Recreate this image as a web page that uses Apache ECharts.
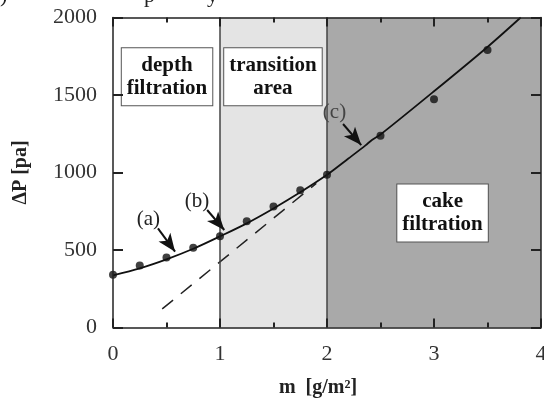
<!DOCTYPE html>
<html>
<head>
<meta charset="utf-8">
<script src="https://cdn.jsdelivr.net/npm/echarts@6/dist/echarts.min.js"></script>
<style>
html,body{margin:0;padding:0;background:#fff;}
#chart{width:544px;height:403px;}
</style>
</head>
<body>
<div id="chart"></div>
<script>
// measured points
const pointX = [0, 0.25, 0.5, 0.75, 1.0, 1.25, 1.5, 1.75, 2.0, 2.5, 3.0, 3.5];
const pointY = [340, 400, 452, 515, 588, 685, 780, 886, 985, 1237, 1472, 1790];
// fitted solid curve
const curveX = [0, 0.25, 0.5, 0.75, 1.0, 1.25, 1.5, 1.75, 2.0, 2.2, 2.36, 2.42, 2.5, 3.0, 3.5, 3.81];
const curveY = [337, 382, 440, 508, 588, 672, 768, 872, 985, 1090, 1175, 1210, 1245, 1524, 1810, 2000];
// dashed extrapolation of the cake-filtration line
const dashX = [0.46, 1.9];
const dashY = [120, 930];
// tick settings
const xTicks = [0, 1, 2, 3, 4];
const yTicks = [0, 500, 1000, 1500, 2000];
// region boundaries
const regionEdges = [0, 1, 2, 4];
const regionNames = ['depth\nfiltration', 'transition\narea', 'cake\nfiltration'];
const regionBoxPos = [[0.505, 1618], [1.495, 1618], [3.08, 739]];
// annotations
const noteLabels = ['(a)', '(b)', '(c)'];
const notePos = [[0.33, 694], [0.785, 816], [2.07, 1390]];
const arrowStarts = [[0.42, 640], [0.88, 758], [2.15, 1313]];
const arrowTips = [[0.58, 489], [1.04, 629], [2.32, 1177]];

const serif = "'Liberation Serif', 'Times New Roman', serif";
const frame = {color: '#222', width: 1.5};
const tickStyle = {color: '#222', width: 2};

function xAxisDef(pos, showLabel) {
  return {
    type: 'value', position: pos, min: xTicks[0], max: xTicks[xTicks.length - 1], interval: 1, z: 10,
    axisLine: {show: true, onZero: false, lineStyle: frame},
    axisTick: {show: true, inside: true, length: 9, lineStyle: tickStyle},
    minorTick: {show: true, splitNumber: 2, length: 5, lineStyle: tickStyle},
    splitLine: {show: false},
    axisLabel: {show: showLabel, fontSize: 22, fontFamily: serif, color: '#333', margin: 16,
      formatter: v => String(v)},
    name: showLabel ? 'm  [g/m²]' : '',
    nameLocation: 'middle', nameGap: 50,
    nameTextStyle: {fontSize: 20, fontWeight: 'bold', fontFamily: serif, color: '#222', padding: [0, 18, 0, 0]}
  };
}
function yAxisDef(pos, showLabel) {
  return {
    type: 'value', position: pos, min: yTicks[0], max: yTicks[yTicks.length - 1], interval: 500, z: 10,
    axisLine: {show: true, onZero: false, lineStyle: frame},
    axisTick: {show: true, inside: true, length: 10, lineStyle: tickStyle},
    splitLine: {show: false},
    axisLabel: {show: showLabel, fontSize: 22, fontFamily: serif, color: '#333', margin: 16,
      formatter: v => String(v)},
    name: showLabel ? 'ΔP [pa]' : '',
    nameLocation: 'middle', nameGap: 82, nameRotate: 90,
    nameTextStyle: {fontSize: 20, fontWeight: 'bold', fontFamily: serif, color: '#222', padding: [0, 0, 0, 0]}
  };
}

const chart = echarts.init(document.getElementById('chart'), null, {renderer: 'canvas'});
const boxLabel = {
  show: true, position: 'inside', fontSize: 21, fontWeight: 'bold', fontFamily: serif,
  color: '#111', lineHeight: 23, backgroundColor: '#fff', borderColor: '#555', borderWidth: 1,
  padding: [6, 5, 5, 5], align: 'center', verticalAlign: 'middle',
  formatter: p => p.name
};
const option = {
  animation: false,
  backgroundColor: '#fff',
  grid: {left: 113, right: 3, top: 17.5, bottom: 75.5, containLabel: false, outerBoundsMode: 'none'},
  xAxis: [xAxisDef('bottom', true), xAxisDef('top', false)],
  yAxis: [yAxisDef('left', true), yAxisDef('right', false)],
  graphic: [
    {type: 'text', left: 0, top: -15, style: {text: ')', font: '22px ' + serif, fill: '#222'}},
    {type: 'text', left: 144, top: -15, style: {text: 'p', font: '22px ' + serif, fill: '#222'}},
    {type: 'text', left: 207, top: -15, style: {text: 'y', font: '22px ' + serif, fill: '#222'}}
  ],
  series: [
    {
      type: 'line', name: 'bg', data: [], z: 1, silent: true,
      markArea: {
        silent: true,
        data: [
          [{xAxis: regionEdges[1], itemStyle: {color: '#e4e4e4'}}, {xAxis: regionEdges[2]}],
          [{xAxis: regionEdges[2], itemStyle: {color: '#a9a9a9'}}, {xAxis: regionEdges[3]}]
        ]
      },
      markLine: {
        silent: true, symbol: ['none', 'none'], label: {show: false},
        lineStyle: {color: '#444', width: 1.5, type: 'solid'},
        data: [{xAxis: regionEdges[1]}, {xAxis: regionEdges[2]}]
      }
    },
    {
      type: 'line', name: 'dash', z: 3, symbol: 'none',
      data: dashX.map((x, i) => [x, dashY[i]]),
      lineStyle: {color: '#222', width: 1.5, type: [14, 10]}
    },
    {
      type: 'line', name: 'curve', z: 4, symbol: 'none', smooth: 0.3,
      data: curveX.map((x, i) => [x, curveY[i]]),
      lineStyle: {color: '#111', width: 1.8}
    },
    {
      type: 'scatter', name: 'points', z: 5, symbol: 'circle', symbolSize: 8,
      itemStyle: {color: '#111'},
      data: pointX.map((x, i) => [x, pointY[i]]),
      markLine: {
        silent: true, symbol: ['none', 'arrow'], symbolSize: [11, 18], label: {show: false},
        lineStyle: {color: '#111', width: 2, type: 'solid'},
        data: arrowStarts.map((s, i) => [{coord: s}, {coord: arrowTips[i]}])
      },
      markPoint: {
        silent: true, symbol: 'circle', symbolSize: 0,
        data: notePos.map((p, i) => ({
          name: noteLabels[i], coord: p,
          label: {show: true, position: 'inside', formatter: noteLabels[i], fontSize: 21, fontFamily: serif, color: i === 2 ? '#444' : '#222'}
        })).concat(regionBoxPos.map((p, i) => ({
          name: regionNames[i], coord: p, label: boxLabel
        })))
      }
    }
  ]
};
chart.setOption(option);
</script>
</body>
</html>
